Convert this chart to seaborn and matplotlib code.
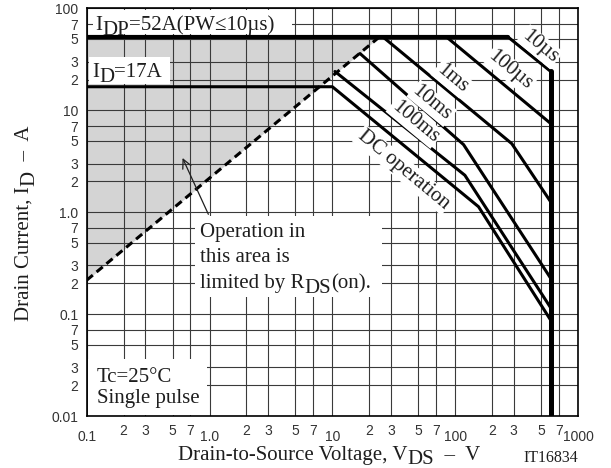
import numpy as np
import pandas as pd
import seaborn as sns
import matplotlib.pyplot as plt
from matplotlib.patches import Rectangle
from matplotlib.ticker import NullLocator

# safe operating area, volts / amps
idp_v = [0.1, 271]
idp_i = [52, 52]
us10_v = [271, 600]
us10_i = [52, 24]
us100_v = [85.5, 600]
us100_i = [52, 7.4]
ms1_v = [26, 289, 600]
ms1_i = [52, 4.7, 1.26]
ms10_v = [16.8, 117, 600]
ms10_i = [36, 4.6, 0.224]
ms100_v = [10.5, 120, 600]
ms100_i = [24, 2.3, 0.115]
dc_v = [0.1, 10, 155, 600]
dc_i = [17, 17, 1.13, 0.087]
vdss_v = [600, 600]
vdss_i = [24, 0.01]
rds_v = [0.1, 24]
rds_i = [0.215, 52]

x_ticks = [0.1, 0.2, 0.3, 0.5, 0.7, 1, 2, 3, 5, 7, 10, 20, 30, 50, 70,
           100, 200, 300, 500, 700, 1000]
x_labels = ['0.1', '2', '3', '5', '7', '1.0', '2', '3', '5', '7', '10', '2', '3',
            '5', '7', '100', '2', '3', '5', '7', '1000']
y_ticks = [0.01, 0.02, 0.03, 0.05, 0.07, 0.1, 0.2, 0.3, 0.5, 0.7, 1, 2, 3, 5, 7,
           10, 20, 30, 50, 70, 100]
y_labels = ['0.01', '2', '3', '5', '7', '0.1', '2', '3', '5', '7', '1.0', '2', '3',
            '5', '7', '10', '2', '3', '5', '7', '100']

sns.set_theme(style='white')
plt.rcParams['font.family'] = ['Liberation Serif', 'DejaVu Serif']

W, H = 611, 468
fig = plt.figure(figsize=(W / 100, H / 100), dpi=100)
ax = fig.add_axes([86.7 / W, 1 - 416 / H, 491.3 / W, 407.7 / H])
ax.set_xscale('log')
ax.set_yscale('log')
ax.set_xlim(0.1, 1000)
ax.set_ylim(0.01, 100)

ink = '#1e1e1e'


def px(x, y):
    # pixel position in the picture -> axes fraction
    return (x - 86.7) / 491.3, (416 - y) / 407.7


# grid on the 1-2-3-5-7 steps
ax.set_xticks(x_ticks)
ax.set_xticklabels(x_labels, family='Liberation Sans', fontsize=10, color='#333333')
ax.set_yticks(y_ticks)
ax.set_yticklabels(y_labels, family='Liberation Sans', fontsize=10, color='#333333')
ax.xaxis.set_minor_locator(NullLocator())
ax.yaxis.set_minor_locator(NullLocator())
ax.tick_params(length=0)
ax.tick_params(axis='y', pad=6)
for tk, lab in zip(ax.xaxis.get_major_ticks(), x_labels):
    tk.set_pad(10 if lab in ('0.1', '1.0', '10', '100', '1000') else 6)
ax.set_axisbelow(True)
ax.grid(True, color='#3a3a3a', lw=0.8)
for sp in ax.spines.values():
    sp.set_color('black')
    sp.set_linewidth(1.2)

# area limited by RDS(on)
ax.fill_between(rds_v, rds_i, [52, 52], color='#d4d4d4', lw=0, zorder=0.3)

# white boxes behind the notes
for x0, y0, x1, y1 in [(93, 10, 292, 34), (89, 57, 170, 84),
                       (195, 216, 382, 297), (88, 359, 207, 415)]:
    a0, b1 = px(x0, y0)
    a1, b0 = px(x1, y1)
    ax.add_patch(Rectangle((a0, b0), a1 - a0, b1 - b0, transform=ax.transAxes,
                           facecolor='white', edgecolor='none', zorder=1))

curve_kw = dict(ax=ax, color='black', sort=False, estimator=None, zorder=3)
sns.lineplot(x=idp_v, y=idp_i, lw=3.0, **curve_kw)
sns.lineplot(x=us10_v, y=us10_i, lw=2.2, **curve_kw)
sns.lineplot(x=us100_v, y=us100_i, lw=2.2, **curve_kw)
sns.lineplot(x=ms1_v, y=ms1_i, lw=2.2, **curve_kw)
sns.lineplot(x=ms10_v, y=ms10_i, lw=2.2, **curve_kw)
sns.lineplot(x=ms100_v, y=ms100_i, lw=2.2, **curve_kw)
sns.lineplot(x=dc_v, y=dc_i, lw=2.2, **curve_kw)
sns.lineplot(x=vdss_v, y=vdss_i, lw=3.6, **curve_kw)
sns.lineplot(x=rds_v, y=rds_i, lw=2.2, linestyle=(0, (2.6, 1.6)), **curve_kw)


def rich(xy, pieces, trans, rotation=0, **kw):
    # pieces are (text, drop in points); a dropped piece is a full size subscript
    kw = dict(dict(fontsize=15, color=ink, zorder=5), **kw)
    s0, prev = pieces[0]
    if rotation == 0:
        t = ax.text(*xy, s0, transform=trans, ha='left', va='baseline', **kw)
    else:
        t = ax.text(*xy, s0, transform=trans, ha='right', va='bottom', rotation=90, **kw)
    for s, drop in pieces[1:]:
        d = drop - prev
        prev = drop
        if rotation == 0:
            t = ax.annotate(s, xy=(1, 0), xycoords=t, xytext=(0, -d),
                            textcoords='offset points', ha='left', va='bottom', **kw)
        else:
            t = ax.annotate(s, xy=(1, 1), xycoords=t, xytext=(d, 0), rotation=90,
                            textcoords='offset points', ha='right', va='bottom', **kw)
    return t


rich(px(95, 30), [('I', 0), ('DP', 3.6), ('=52A(PW≤10µs)', 0)], ax.transAxes)
rich(px(92, 77), [('I', 0), ('D', 3.6), ('=17A', 0)], ax.transAxes)
ax.text(*px(200, 237), 'Operation in', transform=ax.transAxes, fontsize=15, color=ink, zorder=5)
ax.text(*px(200, 262), 'this area is', transform=ax.transAxes, fontsize=15, color=ink, zorder=5)
rich(px(200, 288), [('limited by R', 0), ('DS', 3.6), ('(on).', 0)], ax.transAxes)
ax.text(*px(97, 382), 'Tc=25°C', transform=ax.transAxes, fontsize=15, color=ink, zorder=5)
ax.text(*px(97, 403), 'Single pulse', transform=ax.transAxes, fontsize=15, color=ink, zorder=5)

ax.annotate('', xy=(0.59, 3.6), xytext=(1.0, 0.9),
            arrowprops=dict(arrowstyle='->', lw=0.9, color=ink, mutation_scale=16), zorder=5)

# pulse width labels along the curves
for lab, x, y in [('10µs', 491, 42), ('100µs', 280, 24.8), ('1ms', 94, 20.6),
                  ('10ms', 64.5, 11.7), ('100ms', 47, 7.7), ('DC operation', 38, 2.6)]:
    ax.text(x, y, lab, rotation=-39.7, rotation_mode='anchor', ha='center', va='center',
            fontsize=15, color=ink, zorder=4,
            bbox=dict(facecolor='white', edgecolor='none', pad=1.0))

# axis titles
rich((178 / W, 1 - 460 / H), [('Drain-to-Source Voltage, V', 0), ('DS', 3.2), ('  –  V', 0)],
     fig.transFigure)
rich((34 / W, 1 - 321 / H), [('Drain Current, I', 0), ('D', 3.6), ('  –  A', 0)],
     fig.transFigure, rotation=90)
fig.text(578 / W, 1 - 462 / H, 'IT16834', fontsize=11.5, color=ink, ha='right')

fig.savefig('out.png', dpi=100)
